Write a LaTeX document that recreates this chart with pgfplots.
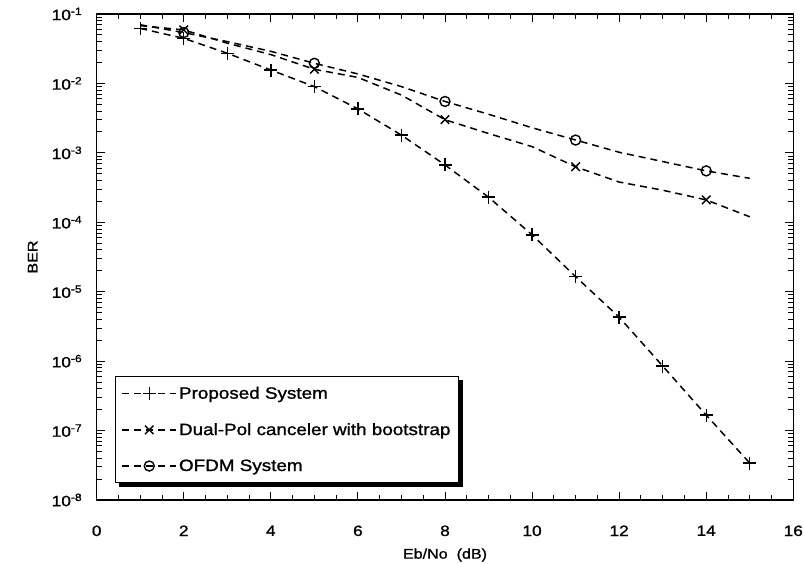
\documentclass[border=0pt]{standalone}
\usepackage{fontspec}
\setmainfont[FakeStretch=1.15, FakeBold=1.2]{Liberation Sans}
\usepackage{pgfplots}
\pgfplotsset{compat=1.18}
\begin{document}
\begin{tikzpicture}
\useasboundingbox (-96.7bp,-64bp) rectangle (706.3bp,500bp);
\begin{axis}[
  at={(0,0)}, anchor=south west,
  scale only axis, width=696.6bp, height=486bp,
  ymode=log, xmin=0, xmax=16, ymin=1e-8, ymax=1e-1,
  xtick={0,2,...,16}, minor x tick num=3,
  ytick={1e-8,1e-7,1e-6,1e-5,1e-4,1e-3,1e-2,1e-1},
  yticklabels={10\textsuperscript{-8},10\textsuperscript{-7},10\textsuperscript{-6},10\textsuperscript{-5},10\textsuperscript{-4},10\textsuperscript{-3},10\textsuperscript{-2},10\textsuperscript{-1}},
  /pgf/number format/assume math mode=true,
  tick align=inside,
  major tick length=8bp, minor tick length=5bp,
  axis line style={line width=1.6bp},
  every tick/.style={black, line width=1bp},
  tick label style={font=\fontsize{15bp}{17bp}\selectfont},
  yticklabel style={xshift=-11bp},
  xticklabel style={yshift=-22bp},
  label style={font=\fontsize{14bp}{16bp}\selectfont},
  xlabel={Eb/No\ \ (dB)},
  ylabel={BER},
  xlabel style={at={(axis description cs:0.5,0)}, anchor=center, yshift=-55bp},
  ylabel style={at={(axis description cs:-0.0919,0.5)}, anchor=center},
  legend style={name=leg, at={(0.0263,0.035)}, anchor=south west, draw=black, line width=1bp,
    fill=white, font=\fontsize{16.4bp}{19bp}\selectfont, row sep=19bp,
    inner xsep=6bp, inner ysep=8bp},
  legend cell align=left,
  legend image code/.code={\draw[mark repeat=2,mark phase=2,#1] plot coordinates {(0bp,0bp) (27bp,0bp) (54bp,0bp)};},
  every axis plot/.append style={black, line width=1.5bp, dash pattern=on 7bp off 5bp},
]
\addplot[mark=+, mark size=6.5bp, mark options={solid, line width=1.4bp}] coordinates {
(1,0.062)(2,0.0446)(3,0.0272)(4,0.0156)(5,0.0090)(6,0.0043)(7,0.0018)(8,6.7e-4)(9,2.3e-4)(10,6.6e-5)(11,1.65e-5)(12,4.3e-6)(13,8.5e-7)(14,1.67e-7)(15,3.4e-8)};
\addlegendentry{Proposed System}
\addplot[mark=x, mark size=6bp, mark repeat=3, mark phase=2, mark options={solid, line width=1.4bp}] coordinates {
(1,0.068)(2,0.059)(3,0.038)(4,0.026)(5,0.016)(6,0.0122)(7,0.0068)(8,0.0030)(9,0.0019)(10,0.00123)(11,6.3e-4)(12,3.8e-4)(13,2.9e-4)(14,2.1e-4)(15,1.2e-4)};
\addlegendentry{Dual-Pol canceler with bootstrap}
\addplot[mark=o, mark size=5bp, mark repeat=3, mark phase=2, mark options={solid, line width=1.4bp}] coordinates {
(1,0.07)(2,0.054)(3,0.040)(4,0.029)(5,0.0195)(6,0.0137)(7,0.0090)(8,0.0055)(9,0.0036)(10,0.0023)(11,0.00153)(12,0.00102)(13,7.5e-4)(14,5.5e-4)(15,4.3e-4)};
\addlegendentry{OFDM System}
\end{axis}
\draw[black, line width=4bp] ([xshift=4bp,yshift=-2bp]leg.south west) -- ([xshift=2bp,yshift=-2bp]leg.south east) -- ([xshift=2bp,yshift=-4bp]leg.north east);
\end{tikzpicture}
\end{document}
